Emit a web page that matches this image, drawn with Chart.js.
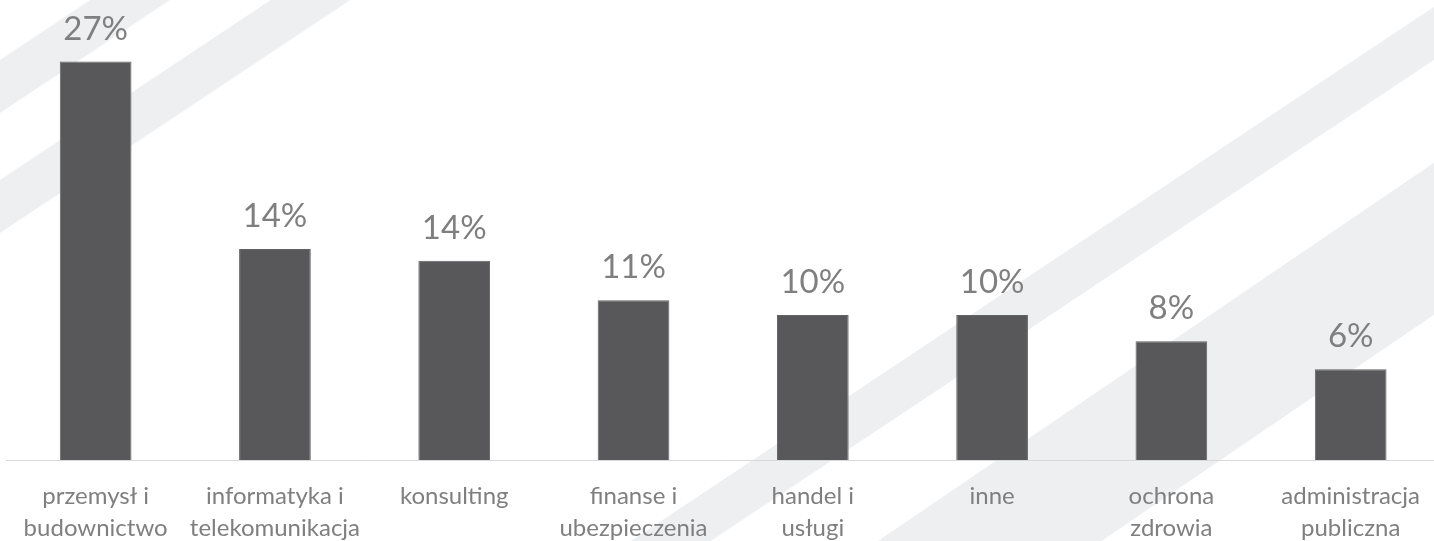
<!DOCTYPE html>
<html lang="pl">
<head>
<meta charset="utf-8">
<title>Struktura branżowa</title>
<script src="https://cdn.jsdelivr.net/npm/chart.js@4.4.1/dist/chart.umd.min.js"></script>
<style>
  html, body { margin: 0; padding: 0; background: #ffffff; overflow: hidden; }
  #wrap { position: relative; width: 1441px; height: 541px; }
</style>
</head>
<body>
<div id="wrap"><canvas id="chart"></canvas></div>
<script>
// Branże (etykiety osi X, podzielone na wiersze)
const categories = [
  ['przemysł i', 'budownictwo'],
  ['informatyka i', 'telekomunikacja'],
  ['konsulting'],
  ['finanse i', 'ubezpieczenia'],
  ['handel i', 'usługi'],
  ['inne'],
  ['ochrona', 'zdrowia'],
  ['administracja', 'publiczna']
];

// Udział procentowy każdej branży
const shares = [27.2, 14.4, 13.6, 10.9, 9.9, 9.9, 8.1, 6.2];

const TEXT_GREY = '#7f7f7f';
const BAR_GREY = '#58585a';
const STRIPE_GREY = '#eeeff1';

// Ukośne pasy w tle: każdy pas to dwie równoległe krawędzie y = b - k*x
const stripes = [
  { k: 0.665, top: 60,    bottom: 113 },
  { k: 0.665, top: 180,   bottom: 233 },
  { k: 0.665, top: 960.6, bottom: 1013.6 },
  { k: 0.68,  top: 1138,  bottom: 1290 }
];

const backgroundStripes = {
  id: 'backgroundStripes',
  beforeDraw(chart) {
    const { ctx, width, height } = chart;
    ctx.save();
    ctx.fillStyle = '#ffffff';
    ctx.fillRect(0, 0, width, height);
    ctx.fillStyle = STRIPE_GREY;
    const x0 = -50, x1 = width + 50;
    stripes.forEach(s => {
      ctx.beginPath();
      ctx.moveTo(x0, s.top - s.k * x0);
      ctx.lineTo(x1, s.top - s.k * x1);
      ctx.lineTo(x1, s.bottom - s.k * x1);
      ctx.lineTo(x0, s.bottom - s.k * x0);
      ctx.closePath();
      ctx.fill();
    });
    ctx.restore();
  }
};

// Etykiety wartości nad słupkami
const valueLabels = {
  id: 'valueLabels',
  afterDatasetsDraw(chart) {
    const { ctx } = chart;
    const meta = chart.getDatasetMeta(0);
    const data = chart.data.datasets[0].data;
    ctx.save();
    ctx.font = '33px Lato, "Open Sans", sans-serif';
    ctx.fillStyle = TEXT_GREY;
    ctx.textAlign = 'center';
    ctx.textBaseline = 'alphabetic';
    meta.data.forEach((bar, i) => {
      ctx.fillText(Math.round(data[i]) + '%', bar.x, bar.y - 22);
    });
    ctx.restore();
  }
};

new Chart(document.getElementById('chart'), {
  type: 'bar',
  data: {
    labels: categories,
    datasets: [{
      data: shares,
      backgroundColor: BAR_GREY,
      borderColor: '#636365',
      borderWidth: 1,
      categoryPercentage: 1,
      barPercentage: 0.4
    }]
  },
  options: {
    responsive: true,
    maintainAspectRatio: false,
    animation: false,
    devicePixelRatio: 1,
    layout: { padding: { left: 6, right: 0, top: 0, bottom: 0 } },
    plugins: {
      legend: { display: false },
      tooltip: { enabled: false }
    },
    scales: {
      x: {
        grid: { display: false, drawTicks: false },
        border: { display: true, color: '#d9d9d9', width: 1 },
        ticks: {
          color: TEXT_GREY,
          font: { family: 'Lato, "Open Sans", sans-serif', size: 24, lineHeight: 1.3 },
          padding: 21,
          maxRotation: 0,
          autoSkip: false
        },
        afterFit(scale) {
          // wysokość pasa etykiet pod osią
          scale.height = 81;
        }
      },
      y: {
        display: false,
        min: 0,
        max: 31.4
      }
    }
  },
  plugins: [backgroundStripes, valueLabels]
});
</script>
</body>
</html>
